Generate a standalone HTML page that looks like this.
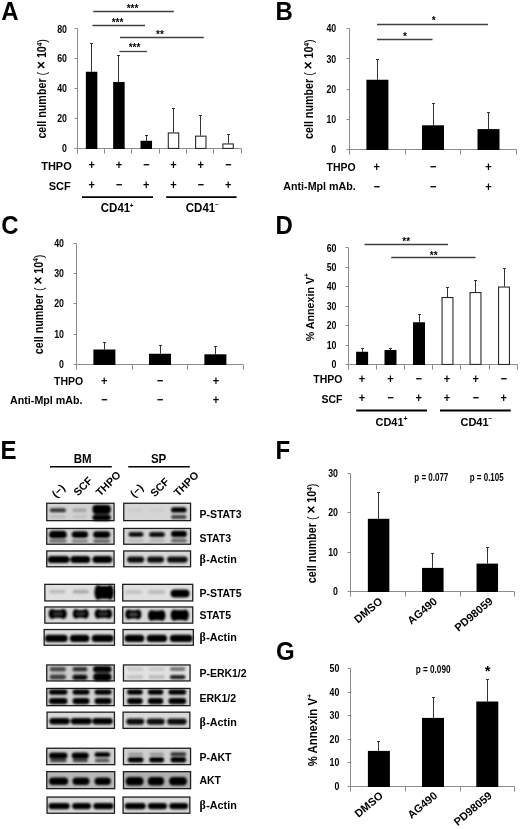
<!DOCTYPE html>
<html><head><meta charset="utf-8"><style>
html,body{margin:0;padding:0;background:#fff;}
body{width:520px;height:829px;overflow:hidden;}
svg{display:block;font-family:"Liberation Sans", sans-serif;filter:blur(0.35px);}
</style></head><body>
<svg width="520" height="829" viewBox="0 0 520 829">
<defs><filter id="bl" x="-20%" y="-100%" width="140%" height="300%"><feGaussianBlur stdDeviation="0.85"/></filter></defs>
<text x="0" y="0" font-size="24" text-anchor="start" font-weight="bold" fill="#000" transform="translate(1.2,20.3) scale(1,1.06)">A</text>
<text x="0" y="0" font-size="24" text-anchor="start" font-weight="bold" fill="#000" transform="translate(275.4,19.8) scale(1,1.06)">B</text>
<text x="0" y="0" font-size="24" text-anchor="start" font-weight="bold" fill="#000" transform="translate(1.2,234.1) scale(1,1.06)">C</text>
<text x="0" y="0" font-size="24" text-anchor="start" font-weight="bold" fill="#000" transform="translate(275.6,234.1) scale(1,1.06)">D</text>
<text x="0" y="0" font-size="24" text-anchor="start" font-weight="bold" fill="#000" transform="translate(0.4,459.1) scale(1,1.06)">E</text>
<text x="0" y="0" font-size="24" text-anchor="start" font-weight="bold" fill="#000" transform="translate(275.5,458.5) scale(1,1.06)">F</text>
<text x="0" y="0" font-size="24" text-anchor="start" font-weight="bold" fill="#000" transform="translate(276,659.8) scale(1,1.06)">G</text>
<line x1="77.5" y1="28.5" x2="77.5" y2="153.5" stroke="#8c8c8c" stroke-width="1"/>
<line x1="74.5" y1="148.5" x2="77.5" y2="148.5" stroke="#8c8c8c" stroke-width="1"/>
<text x="67" y="152.29999999999998" font-size="10" text-anchor="end" font-weight="bold" fill="#000" textLength="4.89" lengthAdjust="spacingAndGlyphs">0</text>
<line x1="74.5" y1="118.5" x2="77.5" y2="118.5" stroke="#8c8c8c" stroke-width="1"/>
<text x="67" y="122.34999999999998" font-size="10" text-anchor="end" font-weight="bold" fill="#000" textLength="9.79" lengthAdjust="spacingAndGlyphs">20</text>
<line x1="74.5" y1="88.5" x2="77.5" y2="88.5" stroke="#8c8c8c" stroke-width="1"/>
<text x="67" y="92.39999999999998" font-size="10" text-anchor="end" font-weight="bold" fill="#000" textLength="9.79" lengthAdjust="spacingAndGlyphs">40</text>
<line x1="74.5" y1="58.5" x2="77.5" y2="58.5" stroke="#8c8c8c" stroke-width="1"/>
<text x="67" y="62.44999999999998" font-size="10" text-anchor="end" font-weight="bold" fill="#000" textLength="9.79" lengthAdjust="spacingAndGlyphs">60</text>
<line x1="74.5" y1="28.5" x2="77.5" y2="28.5" stroke="#8c8c8c" stroke-width="1"/>
<text x="67" y="32.49999999999998" font-size="10" text-anchor="end" font-weight="bold" fill="#000" textLength="9.79" lengthAdjust="spacingAndGlyphs">80</text>
<line x1="77.5" y1="148.5" x2="241.3" y2="148.5" stroke="#8c8c8c" stroke-width="1"/>
<line x1="77.5" y1="148.5" x2="77.5" y2="153.5" stroke="#8c8c8c" stroke-width="1"/>
<line x1="104.5" y1="148.5" x2="104.5" y2="153.5" stroke="#8c8c8c" stroke-width="1"/>
<line x1="131.5" y1="148.5" x2="131.5" y2="153.5" stroke="#8c8c8c" stroke-width="1"/>
<line x1="159.5" y1="148.5" x2="159.5" y2="153.5" stroke="#8c8c8c" stroke-width="1"/>
<line x1="186.5" y1="148.5" x2="186.5" y2="153.5" stroke="#8c8c8c" stroke-width="1"/>
<line x1="213.5" y1="148.5" x2="213.5" y2="153.5" stroke="#8c8c8c" stroke-width="1"/>
<line x1="241.5" y1="148.5" x2="241.5" y2="153.5" stroke="#8c8c8c" stroke-width="1"/>
<line x1="91.5" y1="43" x2="91.5" y2="71.75" stroke="#333" stroke-width="1"/>
<line x1="90.0" y1="43.5" x2="93.0" y2="43.5" stroke="#333" stroke-width="1"/>
<rect x="85.85" y="71.75" width="11.5" height="77.25" fill="#000" stroke="none" stroke-width="0"/>
<line x1="118.5" y1="55.5" x2="118.5" y2="82" stroke="#333" stroke-width="1"/>
<line x1="117.0" y1="55.5" x2="120.0" y2="55.5" stroke="#333" stroke-width="1"/>
<rect x="113.15" y="82" width="11.5" height="67.0" fill="#000" stroke="none" stroke-width="0"/>
<line x1="146.5" y1="135" x2="146.5" y2="140.75" stroke="#333" stroke-width="1"/>
<line x1="145.0" y1="135.5" x2="148.0" y2="135.5" stroke="#333" stroke-width="1"/>
<rect x="140.55" y="140.75" width="11.5" height="8.25" fill="#000" stroke="none" stroke-width="0"/>
<line x1="173.5" y1="108.3" x2="173.5" y2="132.4" stroke="#333" stroke-width="1"/>
<line x1="172.0" y1="108.5" x2="175.0" y2="108.5" stroke="#333" stroke-width="1"/>
<rect x="168.3" y="132.95000000000002" width="10.4" height="15.499999999999995" fill="#fff" stroke="#2a2a2a" stroke-width="1.1"/>
<line x1="200.5" y1="115.7" x2="200.5" y2="135.6" stroke="#333" stroke-width="1"/>
<line x1="199.0" y1="115.5" x2="202.0" y2="115.5" stroke="#333" stroke-width="1"/>
<rect x="195.60000000000002" y="136.15" width="10.4" height="12.300000000000006" fill="#fff" stroke="#2a2a2a" stroke-width="1.1"/>
<line x1="228.5" y1="134.7" x2="228.5" y2="143.4" stroke="#333" stroke-width="1"/>
<line x1="227.0" y1="134.5" x2="230.0" y2="134.5" stroke="#333" stroke-width="1"/>
<rect x="222.9" y="143.95000000000002" width="10.4" height="4.499999999999995" fill="#fff" stroke="#2a2a2a" stroke-width="1.1"/>
<line x1="93.2" y1="11.5" x2="173.8" y2="11.5" stroke="#404040" stroke-width="1.3"/>
<text x="132.5" y="11.8" font-size="10" text-anchor="middle" font-weight="bold" fill="#000">***</text>
<line x1="92.5" y1="25.5" x2="145" y2="25.5" stroke="#404040" stroke-width="1.3"/>
<text x="117.5" y="25.8" font-size="10" text-anchor="middle" font-weight="bold" fill="#000">***</text>
<line x1="120" y1="37.5" x2="203.8" y2="37.5" stroke="#404040" stroke-width="1.3"/>
<text x="160" y="38.099999999999994" font-size="10" text-anchor="middle" font-weight="bold" fill="#000">**</text>
<line x1="119.5" y1="51.5" x2="147" y2="51.5" stroke="#404040" stroke-width="1.3"/>
<text x="134.5" y="51.3" font-size="10" text-anchor="middle" font-weight="bold" fill="#000">***</text>
<text x="0" y="0" font-size="12" text-anchor="middle" font-weight="bold" fill="#000" transform="translate(46.05,88.85) rotate(-90)" textLength="99.5" lengthAdjust="spacingAndGlyphs">cell number <tspan font-weight="normal">(</tspan> <tspan font-size="15" dy="0.3">×</tspan> <tspan dy="-0.3">10</tspan><tspan font-size="7" dy="-4.5">4</tspan><tspan dy="4.5" font-weight="normal">)</tspan></text>
<text x="0" y="0" font-size="11" text-anchor="end" font-weight="bold" fill="#000" transform="translate(71.75,170) scale(1,1.07)">THPO</text>
<text x="0" y="0" font-size="11" text-anchor="end" font-weight="bold" fill="#000" transform="translate(70.75,190) scale(1,1.07)">SCF</text>
<text x="0" y="0" font-size="11" text-anchor="middle" font-weight="bold" fill="#000" transform="translate(91.6,168.6) scale(1,1.12)">+</text>
<text x="0" y="0" font-size="11" text-anchor="middle" font-weight="bold" fill="#000" transform="translate(91.6,189.0) scale(1,1.12)">+</text>
<text x="0" y="0" font-size="11" text-anchor="middle" font-weight="bold" fill="#000" transform="translate(118.9,168.6) scale(1,1.12)">+</text>
<text x="0" y="0" font-size="11" text-anchor="middle" font-weight="bold" fill="#000" transform="translate(118.9,189.0) scale(1,1.12)">−</text>
<text x="0" y="0" font-size="11" text-anchor="middle" font-weight="bold" fill="#000" transform="translate(146.3,168.6) scale(1,1.12)">−</text>
<text x="0" y="0" font-size="11" text-anchor="middle" font-weight="bold" fill="#000" transform="translate(146.3,189.0) scale(1,1.12)">+</text>
<text x="0" y="0" font-size="11" text-anchor="middle" font-weight="bold" fill="#000" transform="translate(173.5,168.6) scale(1,1.12)">+</text>
<text x="0" y="0" font-size="11" text-anchor="middle" font-weight="bold" fill="#000" transform="translate(173.5,189.0) scale(1,1.12)">+</text>
<text x="0" y="0" font-size="11" text-anchor="middle" font-weight="bold" fill="#000" transform="translate(200.8,168.6) scale(1,1.12)">+</text>
<text x="0" y="0" font-size="11" text-anchor="middle" font-weight="bold" fill="#000" transform="translate(200.8,189.0) scale(1,1.12)">−</text>
<text x="0" y="0" font-size="11" text-anchor="middle" font-weight="bold" fill="#000" transform="translate(228.1,168.6) scale(1,1.12)">−</text>
<text x="0" y="0" font-size="11" text-anchor="middle" font-weight="bold" fill="#000" transform="translate(228.1,189.0) scale(1,1.12)">+</text>
<line x1="82" y1="197.2" x2="153" y2="197.2" stroke="#000" stroke-width="1.8"/>
<line x1="166.2" y1="197.2" x2="236.6" y2="197.2" stroke="#000" stroke-width="1.8"/>
<text x="0" y="0" font-size="11.5" text-anchor="start" font-weight="bold" fill="#000" transform="translate(100.8,212) scale(1,1.07)">CD41<tspan font-size="6.5" dy="-4.2" dx="-0.3">+</tspan></text>
<text x="0" y="0" font-size="11.5" text-anchor="start" font-weight="bold" fill="#000" transform="translate(185.8,212) scale(1,1.07)">CD41<tspan font-size="6" dy="-4.5">−</tspan></text>
<line x1="349.5" y1="28.5" x2="349.5" y2="154.5" stroke="#8c8c8c" stroke-width="1"/>
<line x1="346.5" y1="149.5" x2="349.5" y2="149.5" stroke="#8c8c8c" stroke-width="1"/>
<text x="336.2" y="152.9" font-size="10" text-anchor="end" font-weight="bold" fill="#000" textLength="4.89" lengthAdjust="spacingAndGlyphs">0</text>
<line x1="346.5" y1="119.5" x2="349.5" y2="119.5" stroke="#8c8c8c" stroke-width="1"/>
<text x="336.2" y="122.775" font-size="10" text-anchor="end" font-weight="bold" fill="#000" textLength="9.79" lengthAdjust="spacingAndGlyphs">10</text>
<line x1="346.5" y1="89.5" x2="349.5" y2="89.5" stroke="#8c8c8c" stroke-width="1"/>
<text x="336.2" y="92.65" font-size="10" text-anchor="end" font-weight="bold" fill="#000" textLength="9.79" lengthAdjust="spacingAndGlyphs">20</text>
<line x1="346.5" y1="58.5" x2="349.5" y2="58.5" stroke="#8c8c8c" stroke-width="1"/>
<text x="336.2" y="62.52500000000001" font-size="10" text-anchor="end" font-weight="bold" fill="#000" textLength="9.79" lengthAdjust="spacingAndGlyphs">30</text>
<line x1="346.5" y1="28.5" x2="349.5" y2="28.5" stroke="#8c8c8c" stroke-width="1"/>
<text x="336.2" y="32.40000000000001" font-size="10" text-anchor="end" font-weight="bold" fill="#000" textLength="9.79" lengthAdjust="spacingAndGlyphs">40</text>
<line x1="349.5" y1="149.5" x2="516.5" y2="149.5" stroke="#8c8c8c" stroke-width="1"/>
<line x1="349.5" y1="149.5" x2="349.5" y2="154.5" stroke="#8c8c8c" stroke-width="1"/>
<line x1="405.5" y1="149.5" x2="405.5" y2="154.5" stroke="#8c8c8c" stroke-width="1"/>
<line x1="460.5" y1="149.5" x2="460.5" y2="154.5" stroke="#8c8c8c" stroke-width="1"/>
<line x1="516.5" y1="149.5" x2="516.5" y2="154.5" stroke="#8c8c8c" stroke-width="1"/>
<line x1="377.5" y1="59.25" x2="377.5" y2="79.75" stroke="#333" stroke-width="1"/>
<line x1="376.0" y1="59.5" x2="379.0" y2="59.5" stroke="#333" stroke-width="1"/>
<rect x="366.4" y="79.75" width="22" height="70.25" fill="#000" stroke="none" stroke-width="0"/>
<line x1="433.5" y1="103.2" x2="433.5" y2="125.3" stroke="#333" stroke-width="1"/>
<line x1="432.0" y1="103.5" x2="435.0" y2="103.5" stroke="#333" stroke-width="1"/>
<rect x="422.0" y="125.3" width="22" height="24.700000000000003" fill="#000" stroke="none" stroke-width="0"/>
<line x1="488.5" y1="112.5" x2="488.5" y2="129.1" stroke="#333" stroke-width="1"/>
<line x1="487.0" y1="112.5" x2="490.0" y2="112.5" stroke="#333" stroke-width="1"/>
<rect x="477.5" y="129.1" width="22" height="20.900000000000006" fill="#000" stroke="none" stroke-width="0"/>
<line x1="377" y1="24.5" x2="488" y2="24.5" stroke="#404040" stroke-width="1.3"/>
<text x="433.75" y="24.3" font-size="10" text-anchor="middle" font-weight="bold" fill="#000">*</text>
<line x1="377" y1="39.5" x2="432.5" y2="39.5" stroke="#404040" stroke-width="1.3"/>
<text x="405" y="39.55" font-size="10" text-anchor="middle" font-weight="bold" fill="#000">*</text>
<text x="0" y="0" font-size="12" text-anchor="middle" font-weight="bold" fill="#000" transform="translate(313.15000000000003,89.25) rotate(-90)" textLength="99.5" lengthAdjust="spacingAndGlyphs">cell number <tspan font-weight="normal">(</tspan> <tspan font-size="15" dy="0.3">×</tspan> <tspan dy="-0.3">10</tspan><tspan font-size="7" dy="-4.5">4</tspan><tspan dy="4.5" font-weight="normal">)</tspan></text>
<text x="0" y="0" font-size="10.5" text-anchor="end" font-weight="bold" fill="#000" transform="translate(355.75,170.5) scale(1,1.07)">THPO</text>
<text x="0" y="0" font-size="10.7" text-anchor="end" font-weight="bold" fill="#000" transform="translate(355.75,189.5) scale(1,1.06)">Anti-Mpl mAb.</text>
<text x="0" y="0" font-size="11" text-anchor="middle" font-weight="bold" fill="#000" transform="translate(376.8,171.0) scale(1,1.12)">+</text>
<text x="0" y="0" font-size="11" text-anchor="middle" font-weight="bold" fill="#000" transform="translate(376.8,191.0) scale(1,1.12)">−</text>
<text x="0" y="0" font-size="11" text-anchor="middle" font-weight="bold" fill="#000" transform="translate(433,171.0) scale(1,1.12)">−</text>
<text x="0" y="0" font-size="11" text-anchor="middle" font-weight="bold" fill="#000" transform="translate(433,191.0) scale(1,1.12)">−</text>
<text x="0" y="0" font-size="11" text-anchor="middle" font-weight="bold" fill="#000" transform="translate(488.5,171.0) scale(1,1.12)">+</text>
<text x="0" y="0" font-size="11" text-anchor="middle" font-weight="bold" fill="#000" transform="translate(488.5,191.0) scale(1,1.12)">+</text>
<line x1="76.5" y1="243.5" x2="76.5" y2="369.5" stroke="#8c8c8c" stroke-width="1"/>
<line x1="73.5" y1="364.5" x2="76.5" y2="364.5" stroke="#8c8c8c" stroke-width="1"/>
<text x="64" y="367.8" font-size="10" text-anchor="end" font-weight="bold" fill="#000" textLength="4.89" lengthAdjust="spacingAndGlyphs">0</text>
<line x1="73.5" y1="334.5" x2="76.5" y2="334.5" stroke="#8c8c8c" stroke-width="1"/>
<text x="64" y="337.625" font-size="10" text-anchor="end" font-weight="bold" fill="#000" textLength="9.79" lengthAdjust="spacingAndGlyphs">10</text>
<line x1="73.5" y1="303.5" x2="76.5" y2="303.5" stroke="#8c8c8c" stroke-width="1"/>
<text x="64" y="307.45" font-size="10" text-anchor="end" font-weight="bold" fill="#000" textLength="9.79" lengthAdjust="spacingAndGlyphs">20</text>
<line x1="73.5" y1="273.5" x2="76.5" y2="273.5" stroke="#8c8c8c" stroke-width="1"/>
<text x="64" y="277.275" font-size="10" text-anchor="end" font-weight="bold" fill="#000" textLength="9.79" lengthAdjust="spacingAndGlyphs">30</text>
<line x1="73.5" y1="243.5" x2="76.5" y2="243.5" stroke="#8c8c8c" stroke-width="1"/>
<text x="64" y="247.1" font-size="10" text-anchor="end" font-weight="bold" fill="#000" textLength="9.79" lengthAdjust="spacingAndGlyphs">40</text>
<line x1="76.5" y1="364.5" x2="243.1" y2="364.5" stroke="#8c8c8c" stroke-width="1"/>
<line x1="76.5" y1="364.5" x2="76.5" y2="369.5" stroke="#8c8c8c" stroke-width="1"/>
<line x1="132.5" y1="364.5" x2="132.5" y2="369.5" stroke="#8c8c8c" stroke-width="1"/>
<line x1="187.5" y1="364.5" x2="187.5" y2="369.5" stroke="#8c8c8c" stroke-width="1"/>
<line x1="243.5" y1="364.5" x2="243.5" y2="369.5" stroke="#8c8c8c" stroke-width="1"/>
<line x1="104.5" y1="342" x2="104.5" y2="349.5" stroke="#333" stroke-width="1"/>
<line x1="103.0" y1="342.5" x2="106.0" y2="342.5" stroke="#333" stroke-width="1"/>
<rect x="93.4" y="349.5" width="22" height="15.5" fill="#000" stroke="none" stroke-width="0"/>
<line x1="160.5" y1="345" x2="160.5" y2="353.75" stroke="#333" stroke-width="1"/>
<line x1="159.0" y1="345.5" x2="162.0" y2="345.5" stroke="#333" stroke-width="1"/>
<rect x="149.0" y="353.75" width="22" height="11.25" fill="#000" stroke="none" stroke-width="0"/>
<line x1="215.5" y1="346.4" x2="215.5" y2="354.3" stroke="#333" stroke-width="1"/>
<line x1="214.0" y1="346.5" x2="217.0" y2="346.5" stroke="#333" stroke-width="1"/>
<rect x="204.4" y="354.3" width="22" height="10.699999999999989" fill="#000" stroke="none" stroke-width="0"/>
<text x="0" y="0" font-size="12" text-anchor="middle" font-weight="bold" fill="#000" transform="translate(42.6,304.4) rotate(-90)" textLength="99.5" lengthAdjust="spacingAndGlyphs">cell number <tspan font-weight="normal">(</tspan> <tspan font-size="15" dy="0.3">×</tspan> <tspan dy="-0.3">10</tspan><tspan font-size="7" dy="-4.5">4</tspan><tspan dy="4.5" font-weight="normal">)</tspan></text>
<text x="0" y="0" font-size="10.5" text-anchor="end" font-weight="bold" fill="#000" transform="translate(83.25,385) scale(1,1.07)">THPO</text>
<text x="0" y="0" font-size="10.7" text-anchor="end" font-weight="bold" fill="#000" transform="translate(82.5,404) scale(1,1.06)">Anti-Mpl mAb.</text>
<text x="0" y="0" font-size="11" text-anchor="middle" font-weight="bold" fill="#000" transform="translate(104.3,384.6) scale(1,1.12)">+</text>
<text x="0" y="0" font-size="11" text-anchor="middle" font-weight="bold" fill="#000" transform="translate(104.3,404.20000000000005) scale(1,1.12)">−</text>
<text x="0" y="0" font-size="11" text-anchor="middle" font-weight="bold" fill="#000" transform="translate(160,384.6) scale(1,1.12)">−</text>
<text x="0" y="0" font-size="11" text-anchor="middle" font-weight="bold" fill="#000" transform="translate(160,404.20000000000005) scale(1,1.12)">−</text>
<text x="0" y="0" font-size="11" text-anchor="middle" font-weight="bold" fill="#000" transform="translate(216,384.6) scale(1,1.12)">+</text>
<text x="0" y="0" font-size="11" text-anchor="middle" font-weight="bold" fill="#000" transform="translate(216,404.20000000000005) scale(1,1.12)">+</text>
<line x1="348.5" y1="247.5" x2="348.5" y2="369.5" stroke="#8c8c8c" stroke-width="1"/>
<line x1="345.5" y1="364.5" x2="348.5" y2="364.5" stroke="#8c8c8c" stroke-width="1"/>
<text x="336.5" y="368.40000000000003" font-size="10" text-anchor="end" font-weight="bold" fill="#000" textLength="4.89" lengthAdjust="spacingAndGlyphs">0</text>
<line x1="345.5" y1="345.5" x2="348.5" y2="345.5" stroke="#8c8c8c" stroke-width="1"/>
<text x="336.5" y="348.92" font-size="10" text-anchor="end" font-weight="bold" fill="#000" textLength="9.79" lengthAdjust="spacingAndGlyphs">10</text>
<line x1="345.5" y1="325.5" x2="348.5" y2="325.5" stroke="#8c8c8c" stroke-width="1"/>
<text x="336.5" y="329.44000000000005" font-size="10" text-anchor="end" font-weight="bold" fill="#000" textLength="9.79" lengthAdjust="spacingAndGlyphs">20</text>
<line x1="345.5" y1="306.5" x2="348.5" y2="306.5" stroke="#8c8c8c" stroke-width="1"/>
<text x="336.5" y="309.96000000000004" font-size="10" text-anchor="end" font-weight="bold" fill="#000" textLength="9.79" lengthAdjust="spacingAndGlyphs">30</text>
<line x1="345.5" y1="286.5" x2="348.5" y2="286.5" stroke="#8c8c8c" stroke-width="1"/>
<text x="336.5" y="290.48" font-size="10" text-anchor="end" font-weight="bold" fill="#000" textLength="9.79" lengthAdjust="spacingAndGlyphs">40</text>
<line x1="345.5" y1="267.5" x2="348.5" y2="267.5" stroke="#8c8c8c" stroke-width="1"/>
<text x="336.5" y="271.00000000000006" font-size="10" text-anchor="end" font-weight="bold" fill="#000" textLength="9.79" lengthAdjust="spacingAndGlyphs">50</text>
<line x1="345.5" y1="247.5" x2="348.5" y2="247.5" stroke="#8c8c8c" stroke-width="1"/>
<text x="336.5" y="251.52" font-size="10" text-anchor="end" font-weight="bold" fill="#000" textLength="9.79" lengthAdjust="spacingAndGlyphs">60</text>
<line x1="348.5" y1="364.5" x2="517.8" y2="364.5" stroke="#8c8c8c" stroke-width="1"/>
<line x1="348.5" y1="364.5" x2="348.5" y2="369.5" stroke="#8c8c8c" stroke-width="1"/>
<line x1="376.5" y1="364.5" x2="376.5" y2="369.5" stroke="#8c8c8c" stroke-width="1"/>
<line x1="404.5" y1="364.5" x2="404.5" y2="369.5" stroke="#8c8c8c" stroke-width="1"/>
<line x1="432.5" y1="364.5" x2="432.5" y2="369.5" stroke="#8c8c8c" stroke-width="1"/>
<line x1="460.5" y1="364.5" x2="460.5" y2="369.5" stroke="#8c8c8c" stroke-width="1"/>
<line x1="489.5" y1="364.5" x2="489.5" y2="369.5" stroke="#8c8c8c" stroke-width="1"/>
<line x1="517.5" y1="364.5" x2="517.5" y2="369.5" stroke="#8c8c8c" stroke-width="1"/>
<line x1="362.5" y1="348.75" x2="362.5" y2="351.75" stroke="#333" stroke-width="1"/>
<line x1="361.0" y1="348.5" x2="364.0" y2="348.5" stroke="#333" stroke-width="1"/>
<rect x="356.1" y="351.75" width="12" height="13.25" fill="#000" stroke="none" stroke-width="0"/>
<line x1="390.5" y1="348" x2="390.5" y2="350" stroke="#333" stroke-width="1"/>
<line x1="389.0" y1="348.5" x2="392.0" y2="348.5" stroke="#333" stroke-width="1"/>
<rect x="384.5" y="350" width="12" height="15.0" fill="#000" stroke="none" stroke-width="0"/>
<line x1="419.5" y1="314.75" x2="419.5" y2="322.25" stroke="#333" stroke-width="1"/>
<line x1="418.0" y1="314.5" x2="421.0" y2="314.5" stroke="#333" stroke-width="1"/>
<rect x="413.0" y="322.25" width="12" height="42.75" fill="#000" stroke="none" stroke-width="0"/>
<line x1="447.5" y1="287" x2="447.5" y2="297" stroke="#333" stroke-width="1"/>
<line x1="446.0" y1="287.5" x2="449.0" y2="287.5" stroke="#333" stroke-width="1"/>
<rect x="442.05" y="297.55" width="10.9" height="66.9" fill="#fff" stroke="#2a2a2a" stroke-width="1.1"/>
<line x1="475.5" y1="280.5" x2="475.5" y2="292" stroke="#333" stroke-width="1"/>
<line x1="474.0" y1="280.5" x2="477.0" y2="280.5" stroke="#333" stroke-width="1"/>
<rect x="470.05" y="292.55" width="10.9" height="71.9" fill="#fff" stroke="#2a2a2a" stroke-width="1.1"/>
<line x1="504.5" y1="268.75" x2="504.5" y2="286.5" stroke="#333" stroke-width="1"/>
<line x1="503.0" y1="268.5" x2="506.0" y2="268.5" stroke="#333" stroke-width="1"/>
<rect x="498.55" y="287.05" width="10.9" height="77.4" fill="#fff" stroke="#2a2a2a" stroke-width="1.1"/>
<line x1="364.5" y1="244.5" x2="448" y2="244.5" stroke="#404040" stroke-width="1.3"/>
<text x="406.25" y="244.55" font-size="10" text-anchor="middle" font-weight="bold" fill="#000">**</text>
<line x1="391.25" y1="257.5" x2="475.5" y2="257.5" stroke="#404040" stroke-width="1.3"/>
<text x="433.75" y="258.5" font-size="10" text-anchor="middle" font-weight="bold" fill="#000">**</text>
<text x="0" y="0" font-size="11.5" text-anchor="middle" font-weight="bold" fill="#000" transform="translate(313.5,307.2) rotate(-90)" textLength="68" lengthAdjust="spacingAndGlyphs">% Annexin V<tspan font-size="7" dy="-4.5">+</tspan></text>
<text x="0" y="0" font-size="10.5" text-anchor="end" font-weight="bold" fill="#000" transform="translate(342.5,383.3) scale(1,1.07)">THPO</text>
<text x="0" y="0" font-size="10.5" text-anchor="end" font-weight="bold" fill="#000" transform="translate(342.5,403) scale(1,1.07)">SCF</text>
<text x="0" y="0" font-size="11" text-anchor="middle" font-weight="bold" fill="#000" transform="translate(362,383.0) scale(1,1.12)">+</text>
<text x="0" y="0" font-size="11" text-anchor="middle" font-weight="bold" fill="#000" transform="translate(362,402.40000000000003) scale(1,1.12)">+</text>
<text x="0" y="0" font-size="11" text-anchor="middle" font-weight="bold" fill="#000" transform="translate(390.5,383.0) scale(1,1.12)">+</text>
<text x="0" y="0" font-size="11" text-anchor="middle" font-weight="bold" fill="#000" transform="translate(390.5,402.40000000000003) scale(1,1.12)">−</text>
<text x="0" y="0" font-size="11" text-anchor="middle" font-weight="bold" fill="#000" transform="translate(418.75,383.0) scale(1,1.12)">−</text>
<text x="0" y="0" font-size="11" text-anchor="middle" font-weight="bold" fill="#000" transform="translate(418.75,402.40000000000003) scale(1,1.12)">+</text>
<text x="0" y="0" font-size="11" text-anchor="middle" font-weight="bold" fill="#000" transform="translate(447,383.0) scale(1,1.12)">+</text>
<text x="0" y="0" font-size="11" text-anchor="middle" font-weight="bold" fill="#000" transform="translate(447,402.40000000000003) scale(1,1.12)">+</text>
<text x="0" y="0" font-size="11" text-anchor="middle" font-weight="bold" fill="#000" transform="translate(475.75,383.0) scale(1,1.12)">+</text>
<text x="0" y="0" font-size="11" text-anchor="middle" font-weight="bold" fill="#000" transform="translate(475.75,402.40000000000003) scale(1,1.12)">−</text>
<text x="0" y="0" font-size="11" text-anchor="middle" font-weight="bold" fill="#000" transform="translate(503.75,383.0) scale(1,1.12)">−</text>
<text x="0" y="0" font-size="11" text-anchor="middle" font-weight="bold" fill="#000" transform="translate(503.75,402.40000000000003) scale(1,1.12)">+</text>
<line x1="356.25" y1="410.5" x2="427" y2="410.5" stroke="#000" stroke-width="1.8"/>
<line x1="440" y1="410.5" x2="510.75" y2="410.5" stroke="#000" stroke-width="1.8"/>
<text x="0" y="0" font-size="11" text-anchor="start" font-weight="bold" fill="#000" transform="translate(375.5,425.5) scale(1,1.07)">CD41<tspan font-size="7" dy="-4">+</tspan></text>
<text x="0" y="0" font-size="11" text-anchor="start" font-weight="bold" fill="#000" transform="translate(460.5,425.5) scale(1,1.07)">CD41<tspan font-size="6" dy="-4.5">−</tspan></text>
<line x1="350.5" y1="473.5" x2="350.5" y2="596.5" stroke="#8c8c8c" stroke-width="1"/>
<line x1="347.5" y1="591.5" x2="350.5" y2="591.5" stroke="#8c8c8c" stroke-width="1"/>
<text x="338" y="595.0" font-size="10" text-anchor="end" font-weight="bold" fill="#000" textLength="4.89" lengthAdjust="spacingAndGlyphs">0</text>
<line x1="347.5" y1="552.5" x2="350.5" y2="552.5" stroke="#8c8c8c" stroke-width="1"/>
<text x="338" y="555.67" font-size="10" text-anchor="end" font-weight="bold" fill="#000" textLength="9.79" lengthAdjust="spacingAndGlyphs">10</text>
<line x1="347.5" y1="512.5" x2="350.5" y2="512.5" stroke="#8c8c8c" stroke-width="1"/>
<text x="338" y="516.34" font-size="10" text-anchor="end" font-weight="bold" fill="#000" textLength="9.79" lengthAdjust="spacingAndGlyphs">20</text>
<line x1="347.5" y1="473.5" x2="350.5" y2="473.5" stroke="#8c8c8c" stroke-width="1"/>
<text x="338" y="477.01" font-size="10" text-anchor="end" font-weight="bold" fill="#000" textLength="9.79" lengthAdjust="spacingAndGlyphs">30</text>
<line x1="350.5" y1="591.5" x2="514" y2="591.5" stroke="#8c8c8c" stroke-width="1"/>
<line x1="350.5" y1="591.5" x2="350.5" y2="596.5" stroke="#8c8c8c" stroke-width="1"/>
<line x1="405.5" y1="591.5" x2="405.5" y2="596.5" stroke="#8c8c8c" stroke-width="1"/>
<line x1="460.5" y1="591.5" x2="460.5" y2="596.5" stroke="#8c8c8c" stroke-width="1"/>
<line x1="514.5" y1="591.5" x2="514.5" y2="596.5" stroke="#8c8c8c" stroke-width="1"/>
<line x1="378.5" y1="492.6" x2="378.5" y2="518.8" stroke="#333" stroke-width="1"/>
<line x1="377.0" y1="492.5" x2="380.0" y2="492.5" stroke="#333" stroke-width="1"/>
<rect x="367.85" y="518.8" width="21.5" height="73.20000000000005" fill="#000" stroke="none" stroke-width="0"/>
<line x1="432.5" y1="553.2" x2="432.5" y2="567.9" stroke="#333" stroke-width="1"/>
<line x1="431.0" y1="553.5" x2="434.0" y2="553.5" stroke="#333" stroke-width="1"/>
<rect x="422.05" y="567.9" width="21.5" height="24.100000000000023" fill="#000" stroke="none" stroke-width="0"/>
<line x1="487.5" y1="547.6" x2="487.5" y2="563.6" stroke="#333" stroke-width="1"/>
<line x1="486.0" y1="547.5" x2="489.0" y2="547.5" stroke="#333" stroke-width="1"/>
<rect x="476.55" y="563.6" width="21.5" height="28.399999999999977" fill="#000" stroke="none" stroke-width="0"/>
<text x="414.3" y="481.2" font-size="10" text-anchor="start" font-weight="bold" fill="#000" textLength="34" lengthAdjust="spacingAndGlyphs">p = 0.077</text>
<text x="469.7" y="481.2" font-size="10" text-anchor="start" font-weight="bold" fill="#000" textLength="34" lengthAdjust="spacingAndGlyphs">p = 0.105</text>
<text x="0" y="0" font-size="12" text-anchor="middle" font-weight="bold" fill="#000" transform="translate(316.15,533.45) rotate(-90)" textLength="99.5" lengthAdjust="spacingAndGlyphs">cell number <tspan font-weight="normal">(</tspan> <tspan font-size="15" dy="0.3">×</tspan> <tspan dy="-0.3">10</tspan><tspan font-size="7" dy="-4.5">4</tspan><tspan dy="4.5" font-weight="normal">)</tspan></text>
<text x="0" y="0" font-size="11" text-anchor="end" font-weight="bold" fill="#000" transform="translate(383.2,602.5) rotate(-40)">DMSO</text>
<text x="0" y="0" font-size="11" text-anchor="end" font-weight="bold" fill="#000" transform="translate(438.0,602.5) rotate(-40)">AG490</text>
<text x="0" y="0" font-size="11" text-anchor="end" font-weight="bold" fill="#000" transform="translate(493.6,602.5) rotate(-40)">PD98059</text>
<line x1="350.5" y1="668.5" x2="350.5" y2="791.5" stroke="#8c8c8c" stroke-width="1"/>
<line x1="347.5" y1="786.5" x2="350.5" y2="786.5" stroke="#8c8c8c" stroke-width="1"/>
<text x="339.3" y="789.9" font-size="10" text-anchor="end" font-weight="bold" fill="#000" textLength="4.89" lengthAdjust="spacingAndGlyphs">0</text>
<line x1="347.5" y1="762.5" x2="350.5" y2="762.5" stroke="#8c8c8c" stroke-width="1"/>
<text x="339.3" y="766.34" font-size="10" text-anchor="end" font-weight="bold" fill="#000" textLength="9.79" lengthAdjust="spacingAndGlyphs">10</text>
<line x1="347.5" y1="739.5" x2="350.5" y2="739.5" stroke="#8c8c8c" stroke-width="1"/>
<text x="339.3" y="742.78" font-size="10" text-anchor="end" font-weight="bold" fill="#000" textLength="9.79" lengthAdjust="spacingAndGlyphs">20</text>
<line x1="347.5" y1="715.5" x2="350.5" y2="715.5" stroke="#8c8c8c" stroke-width="1"/>
<text x="339.3" y="719.22" font-size="10" text-anchor="end" font-weight="bold" fill="#000" textLength="9.79" lengthAdjust="spacingAndGlyphs">30</text>
<line x1="347.5" y1="692.5" x2="350.5" y2="692.5" stroke="#8c8c8c" stroke-width="1"/>
<text x="339.3" y="695.66" font-size="10" text-anchor="end" font-weight="bold" fill="#000" textLength="9.79" lengthAdjust="spacingAndGlyphs">40</text>
<line x1="347.5" y1="668.5" x2="350.5" y2="668.5" stroke="#8c8c8c" stroke-width="1"/>
<text x="339.3" y="672.1" font-size="10" text-anchor="end" font-weight="bold" fill="#000" textLength="9.79" lengthAdjust="spacingAndGlyphs">50</text>
<line x1="350.5" y1="786.5" x2="514.8" y2="786.5" stroke="#8c8c8c" stroke-width="1"/>
<line x1="350.5" y1="786.5" x2="350.5" y2="791.5" stroke="#8c8c8c" stroke-width="1"/>
<line x1="405.5" y1="786.5" x2="405.5" y2="791.5" stroke="#8c8c8c" stroke-width="1"/>
<line x1="460.5" y1="786.5" x2="460.5" y2="791.5" stroke="#8c8c8c" stroke-width="1"/>
<line x1="514.5" y1="786.5" x2="514.5" y2="791.5" stroke="#8c8c8c" stroke-width="1"/>
<line x1="378.5" y1="741.1" x2="378.5" y2="750.9" stroke="#333" stroke-width="1"/>
<line x1="377.0" y1="741.5" x2="380.0" y2="741.5" stroke="#333" stroke-width="1"/>
<rect x="367.9" y="750.9" width="22" height="36.10000000000002" fill="#000" stroke="none" stroke-width="0"/>
<line x1="433.5" y1="697.6" x2="433.5" y2="717.9" stroke="#333" stroke-width="1"/>
<line x1="432.0" y1="697.5" x2="435.0" y2="697.5" stroke="#333" stroke-width="1"/>
<rect x="422.0" y="717.9" width="22" height="69.10000000000002" fill="#000" stroke="none" stroke-width="0"/>
<line x1="487.5" y1="679" x2="487.5" y2="701.5" stroke="#333" stroke-width="1"/>
<line x1="486.0" y1="679.5" x2="489.0" y2="679.5" stroke="#333" stroke-width="1"/>
<rect x="476.3" y="701.5" width="22" height="85.5" fill="#000" stroke="none" stroke-width="0"/>
<text x="415.7" y="673" font-size="10" text-anchor="start" font-weight="bold" fill="#000" textLength="34.8" lengthAdjust="spacingAndGlyphs">p = 0.090</text>
<text x="487.7" y="676" font-size="15" text-anchor="middle" font-weight="bold" fill="#000">*</text>
<text x="0" y="0" font-size="12.2" text-anchor="middle" font-weight="bold" fill="#000" transform="translate(316.6,730.1) rotate(-90)" textLength="72.4" lengthAdjust="spacingAndGlyphs">% Annexin V<tspan font-size="7.5" dy="-4.8">+</tspan></text>
<text x="0" y="0" font-size="11" text-anchor="end" font-weight="bold" fill="#000" transform="translate(383.8,796.8) rotate(-40)">DMSO</text>
<text x="0" y="0" font-size="11" text-anchor="end" font-weight="bold" fill="#000" transform="translate(438.1,796.8) rotate(-40)">AG490</text>
<text x="0" y="0" font-size="11" text-anchor="end" font-weight="bold" fill="#000" transform="translate(492.8,796.8) rotate(-40)">PD98059</text>
<text x="0" y="0" font-size="11.5" text-anchor="start" font-weight="bold" fill="#000" transform="translate(73.75,463) scale(1,1.05)">BM</text>
<text x="0" y="0" font-size="11.5" text-anchor="start" font-weight="bold" fill="#000" transform="translate(150.9,462.7) scale(1,1.05)">SP</text>
<line x1="50" y1="466.8" x2="111.75" y2="466.8" stroke="#000" stroke-width="1.6"/>
<line x1="128.3" y1="466.8" x2="189.8" y2="466.8" stroke="#000" stroke-width="1.6"/>
<text x="0" y="0" font-size="10.8" text-anchor="middle" font-weight="bold" fill="#000" transform="translate(58.2,490.65) rotate(-45)" dy="3.9">(−)</text>
<text x="0" y="0" font-size="10.8" text-anchor="middle" font-weight="bold" fill="#000" transform="translate(82.85,486.15) rotate(-45)" dy="3.9">SCF</text>
<text x="0" y="0" font-size="10.8" text-anchor="middle" font-weight="bold" fill="#000" transform="translate(108.05,483.45) rotate(-45)" dy="3.9">THPO</text>
<text x="0" y="0" font-size="10.8" text-anchor="middle" font-weight="bold" fill="#000" transform="translate(136.45,490.5) rotate(-45)" dy="3.9">(−)</text>
<text x="0" y="0" font-size="10.8" text-anchor="middle" font-weight="bold" fill="#000" transform="translate(159.55,487.1) rotate(-45)" dy="3.9">SCF</text>
<text x="0" y="0" font-size="10.8" text-anchor="middle" font-weight="bold" fill="#000" transform="translate(186,483.75) rotate(-45)" dy="3.9">THPO</text>
<rect x="46.75" y="503.25" width="67.30" height="17.40" fill="#d2d2d2" stroke="#1e1e1e" stroke-width="1.3"/>
<rect x="123.75" y="503.25" width="66.80" height="17.40" fill="#d6d6d6" stroke="#1e1e1e" stroke-width="1.3"/>
<g filter="url(#bl)">
<rect x="49.7" y="508.2" width="16.3" height="4.0" rx="2.0" ry="2.0" fill="#333"/>
<rect x="49.7" y="515.1" width="16.3" height="3.3" rx="1.6" ry="1.6" fill="#bcbcbc"/>
<rect x="72.5" y="508.4" width="14.2" height="3.6" rx="1.8" ry="1.8" fill="#a2a2a2"/>
<rect x="72.5" y="515.1" width="14.2" height="3.3" rx="1.6" ry="1.6" fill="#c2c2c2"/>
<rect x="92.4" y="504.7" width="18.5" height="9.3" rx="4.0" ry="4.0" fill="#000"/>
<rect x="92.4" y="514.4" width="18.5" height="6.3" rx="3.1" ry="3.1" fill="#000"/>
<rect x="127.0" y="508.1" width="16.5" height="3.8" rx="1.9" ry="1.9" fill="#cdcdcd"/>
<rect x="148.5" y="508.1" width="16.5" height="3.8" rx="1.9" ry="1.9" fill="#cdcdcd"/>
<rect x="171.0" y="507.2" width="15.6" height="5.3" rx="2.6" ry="2.6" fill="#000"/>
<rect x="171.0" y="515.0" width="15.6" height="4.0" rx="2.0" ry="2.0" fill="#444"/>
</g>
<text x="0" y="0" font-size="10.5" text-anchor="start" font-weight="bold" fill="#000" transform="translate(199.4,518) scale(1,1.07)">P-STAT3</text>
<rect x="46.75" y="528.45" width="67.30" height="15.80" fill="#d0d0d0" stroke="#1e1e1e" stroke-width="1.3"/>
<rect x="123.75" y="528.45" width="66.80" height="15.80" fill="#d4d4d4" stroke="#1e1e1e" stroke-width="1.3"/>
<g filter="url(#bl)">
<rect x="49.0" y="530.8" width="17.8" height="7.7" rx="3.9" ry="3.9" fill="#000"/>
<rect x="49.0" y="539.2" width="17.8" height="3.8" rx="1.9" ry="1.9" fill="#777"/>
<rect x="71.7" y="531.2" width="16.4" height="6.8" rx="3.4" ry="3.4" fill="#000"/>
<rect x="71.7" y="539.2" width="16.4" height="3.8" rx="1.9" ry="1.9" fill="#888"/>
<rect x="93.1" y="531.2" width="17.1" height="6.8" rx="3.4" ry="3.4" fill="#000"/>
<rect x="93.1" y="539.2" width="17.1" height="3.8" rx="1.9" ry="1.9" fill="#666"/>
<rect x="128.5" y="532.1" width="15.0" height="4.8" rx="2.4" ry="2.4" fill="#111"/>
<rect x="128.5" y="538.8" width="15.0" height="3.8" rx="1.9" ry="1.9" fill="#bbb"/>
<rect x="149.2" y="531.9" width="15.6" height="5.3" rx="2.6" ry="2.6" fill="#080808"/>
<rect x="149.2" y="538.8" width="15.6" height="3.8" rx="1.9" ry="1.9" fill="#b5b5b5"/>
<rect x="171.0" y="530.7" width="15.9" height="6.6" rx="3.3" ry="3.3" fill="#000"/>
<rect x="171.0" y="538.8" width="15.9" height="3.8" rx="1.9" ry="1.9" fill="#666"/>
</g>
<text x="0" y="0" font-size="10.5" text-anchor="start" font-weight="bold" fill="#000" transform="translate(199.4,541.9) scale(1,1.07)">STAT3</text>
<rect x="46.75" y="550.95" width="67.30" height="15.80" fill="#d8d8d8" stroke="#1e1e1e" stroke-width="1.3"/>
<rect x="123.75" y="550.95" width="66.80" height="15.80" fill="#d8d8d8" stroke="#1e1e1e" stroke-width="1.3"/>
<g filter="url(#bl)">
<rect x="47.6" y="556.0" width="22.0" height="7.0" rx="3.5" ry="3.5" fill="#000"/>
<rect x="70.3" y="556.0" width="20.0" height="7.0" rx="3.5" ry="3.5" fill="#000"/>
<rect x="92.4" y="556.0" width="19.9" height="7.0" rx="3.5" ry="3.5" fill="#000"/>
<rect x="127.1" y="556.4" width="17.1" height="6.3" rx="3.1" ry="3.1" fill="#111"/>
<rect x="147.0" y="556.4" width="17.1" height="6.3" rx="3.1" ry="3.1" fill="#111"/>
<rect x="167.0" y="556.4" width="20.6" height="6.3" rx="3.1" ry="3.1" fill="#111"/>
</g>
<text x="0" y="0" font-size="10.5" text-anchor="start" font-weight="bold" fill="#000" transform="translate(199.4,563) scale(1,1.07)"><tspan font-family="Liberation Serif" font-weight="bold" font-size="12">β</tspan><tspan dx="0.5" font-size="10.8">-Actin</tspan></text>
<rect x="44.85" y="584.35" width="69.60" height="16.60" fill="#e0e0e0" stroke="#1e1e1e" stroke-width="1.3"/>
<rect x="122.75" y="584.35" width="70.00" height="16.60" fill="#e0e0e0" stroke="#1e1e1e" stroke-width="1.3"/>
<g filter="url(#bl)">
<rect x="49.3" y="589.8" width="16.1" height="3.8" rx="1.9" ry="1.9" fill="#bbb"/>
<rect x="72.7" y="589.8" width="16.1" height="3.8" rx="1.9" ry="1.9" fill="#aaa"/>
<ellipse cx="98.0" cy="592.4" rx="3.6" ry="7.7" fill="#000"/>
<ellipse cx="110.2" cy="592.4" rx="3.6" ry="7.7" fill="#000"/>
<rect x="98.0" y="585.9" width="12.2" height="13.0" fill="#000"/>
<rect x="125.0" y="590.1" width="17.0" height="3.8" rx="1.9" ry="1.9" fill="#c4c4c4"/>
<rect x="148.0" y="590.1" width="17.0" height="3.8" rx="1.9" ry="1.9" fill="#bcbcbc"/>
<rect x="170.6" y="589.5" width="19.0" height="7.9" rx="3.9" ry="3.9" fill="#000"/>
</g>
<text x="0" y="0" font-size="10.5" text-anchor="start" font-weight="bold" fill="#000" transform="translate(199.4,596.9) scale(1,1.07)">P-STAT5</text>
<rect x="44.85" y="606.95" width="69.60" height="16.20" fill="#d8d8d8" stroke="#1e1e1e" stroke-width="1.3"/>
<rect x="122.75" y="606.95" width="70.00" height="16.20" fill="#d8d8d8" stroke="#1e1e1e" stroke-width="1.3"/>
<g filter="url(#bl)">
<ellipse cx="52.2" cy="613.9" rx="3.6" ry="5.0" fill="#000"/>
<ellipse cx="63.2" cy="613.9" rx="3.6" ry="5.0" fill="#000"/>
<rect x="52.2" y="609.9" width="11.0" height="8.0" fill="#000"/>
<rect x="53.2" y="613.3" width="9.0" height="1.2" fill="#5a5a5a"/>
<ellipse cx="75.9" cy="613.9" rx="3.2" ry="4.9" fill="#000"/>
<ellipse cx="85.6" cy="613.9" rx="3.2" ry="4.9" fill="#000"/>
<rect x="75.9" y="610.0" width="9.7" height="7.8" fill="#000"/>
<rect x="76.9" y="613.3" width="7.7" height="1.2" fill="#5a5a5a"/>
<ellipse cx="98.1" cy="613.9" rx="3.5" ry="4.9" fill="#000"/>
<ellipse cx="108.7" cy="613.9" rx="3.5" ry="4.9" fill="#000"/>
<rect x="98.1" y="609.9" width="10.6" height="8.0" fill="#000"/>
<rect x="99.1" y="613.3" width="8.6" height="1.2" fill="#5a5a5a"/>
<ellipse cx="128.5" cy="614.4" rx="3.2" ry="5.0" fill="#000"/>
<ellipse cx="138.2" cy="614.4" rx="3.2" ry="5.0" fill="#000"/>
<rect x="128.5" y="610.3" width="9.7" height="8.2" fill="#000"/>
<rect x="129.5" y="613.8" width="7.7" height="1.2" fill="#666"/>
<ellipse cx="151.5" cy="615.4" rx="3.5" ry="5.4" fill="#000"/>
<ellipse cx="162.0" cy="615.4" rx="3.5" ry="5.4" fill="#000"/>
<rect x="151.5" y="610.6" width="10.5" height="9.6" fill="#000"/>
<ellipse cx="174.2" cy="615.1" rx="3.6" ry="5.7" fill="#000"/>
<ellipse cx="185.3" cy="615.1" rx="3.6" ry="5.7" fill="#000"/>
<rect x="174.2" y="610.1" width="11.1" height="10.0" fill="#000"/>
</g>
<text x="0" y="0" font-size="10.5" text-anchor="start" font-weight="bold" fill="#000" transform="translate(199.4,619.4) scale(1,1.07)">STAT5</text>
<rect x="44.15" y="629.55" width="70.30" height="15.70" fill="#dadada" stroke="#1e1e1e" stroke-width="1.3"/>
<rect x="123.05" y="629.55" width="70.30" height="15.70" fill="#dadada" stroke="#1e1e1e" stroke-width="1.3"/>
<g filter="url(#bl)">
<rect x="44.9" y="634.8" width="22.8" height="7.1" rx="3.5" ry="3.5" fill="#000"/>
<rect x="69.8" y="634.8" width="19.6" height="7.1" rx="3.5" ry="3.5" fill="#000"/>
<rect x="91.7" y="634.8" width="21.9" height="7.1" rx="3.5" ry="3.5" fill="#000"/>
<rect x="124.5" y="634.8" width="19.8" height="7.1" rx="3.5" ry="3.5" fill="#000"/>
<rect x="146.7" y="634.8" width="20.4" height="7.1" rx="3.5" ry="3.5" fill="#000"/>
<rect x="169.8" y="634.8" width="22.8" height="7.1" rx="3.5" ry="3.5" fill="#000"/>
</g>
<text x="0" y="0" font-size="10.5" text-anchor="start" font-weight="bold" fill="#000" transform="translate(199.4,641) scale(1,1.07)"><tspan font-family="Liberation Serif" font-weight="bold" font-size="12">β</tspan><tspan dx="0.5" font-size="10.8">-Actin</tspan></text>
<rect x="46.75" y="664.95" width="67.50" height="16.00" fill="#cccccc" stroke="#1e1e1e" stroke-width="1.3"/>
<rect x="123.45" y="664.95" width="66.60" height="16.00" fill="#e2e2e2" stroke="#1e1e1e" stroke-width="1.3"/>
<g filter="url(#bl)">
<rect x="49.7" y="666.9" width="16.3" height="4.6" rx="2.3" ry="2.3" fill="#4a4a4a"/>
<rect x="49.7" y="674.6" width="16.3" height="5.0" rx="2.5" ry="2.5" fill="#404040"/>
<rect x="72.5" y="666.9" width="14.9" height="4.6" rx="2.3" ry="2.3" fill="#333"/>
<rect x="72.5" y="674.4" width="14.9" height="5.5" rx="2.8" ry="2.8" fill="#111"/>
<rect x="93.1" y="666.0" width="18.5" height="6.5" rx="3.2" ry="3.2" fill="#000"/>
<rect x="93.1" y="673.2" width="18.5" height="7.8" rx="3.9" ry="3.9" fill="#000"/>
<rect x="127.0" y="667.1" width="16.5" height="3.8" rx="1.9" ry="1.9" fill="#cacaca"/>
<rect x="127.0" y="675.1" width="16.5" height="3.8" rx="1.9" ry="1.9" fill="#c4c4c4"/>
<rect x="148.5" y="667.1" width="16.5" height="3.8" rx="1.9" ry="1.9" fill="#cacaca"/>
<rect x="148.5" y="675.1" width="16.5" height="3.8" rx="1.9" ry="1.9" fill="#bcbcbc"/>
<rect x="169.8" y="667.1" width="15.7" height="3.8" rx="1.9" ry="1.9" fill="#777"/>
<rect x="169.8" y="674.9" width="15.7" height="4.3" rx="2.1" ry="2.1" fill="#222"/>
</g>
<text x="0" y="0" font-size="10.5" text-anchor="start" font-weight="bold" fill="#000" transform="translate(199.4,677.4) scale(1,1.07)">P-ERK1/2</text>
<rect x="46.75" y="688.45" width="67.50" height="17.20" fill="#d0d0d0" stroke="#1e1e1e" stroke-width="1.3"/>
<rect x="123.45" y="688.45" width="66.60" height="17.20" fill="#d4d4d4" stroke="#1e1e1e" stroke-width="1.3"/>
<g filter="url(#bl)">
<rect x="49.0" y="689.4" width="18.5" height="5.3" rx="2.6" ry="2.6" fill="#000"/>
<rect x="49.0" y="697.9" width="18.5" height="6.3" rx="3.1" ry="3.1" fill="#000"/>
<rect x="72.5" y="689.4" width="17.0" height="5.3" rx="2.6" ry="2.6" fill="#000"/>
<rect x="72.5" y="697.9" width="17.0" height="6.3" rx="3.1" ry="3.1" fill="#000"/>
<rect x="94.5" y="689.4" width="17.1" height="5.3" rx="2.6" ry="2.6" fill="#000"/>
<rect x="94.5" y="697.9" width="17.1" height="6.3" rx="3.1" ry="3.1" fill="#000"/>
<rect x="127.1" y="689.4" width="15.7" height="5.3" rx="2.6" ry="2.6" fill="#000"/>
<rect x="127.1" y="697.9" width="15.7" height="6.3" rx="3.1" ry="3.1" fill="#000"/>
<rect x="147.8" y="689.4" width="15.6" height="5.3" rx="2.6" ry="2.6" fill="#000"/>
<rect x="147.8" y="697.9" width="15.6" height="6.3" rx="3.1" ry="3.1" fill="#000"/>
<rect x="168.4" y="689.4" width="17.8" height="5.3" rx="2.6" ry="2.6" fill="#000"/>
<rect x="168.4" y="697.9" width="17.8" height="6.3" rx="3.1" ry="3.1" fill="#000"/>
</g>
<text x="0" y="0" font-size="10.5" text-anchor="start" font-weight="bold" fill="#000" transform="translate(199.4,701.9) scale(1,1.07)">ERK1/2</text>
<rect x="47.05" y="712.15" width="67.40" height="16.20" fill="#d8d8d8" stroke="#1e1e1e" stroke-width="1.3"/>
<rect x="123.05" y="712.15" width="66.80" height="16.20" fill="#d8d8d8" stroke="#1e1e1e" stroke-width="1.3"/>
<g filter="url(#bl)">
<rect x="49.3" y="718.1" width="20.5" height="6.3" rx="3.1" ry="3.1" fill="#000"/>
<rect x="70.7" y="718.1" width="21.0" height="6.3" rx="3.1" ry="3.1" fill="#000"/>
<rect x="92.3" y="718.1" width="20.5" height="6.3" rx="3.1" ry="3.1" fill="#000"/>
<rect x="126.2" y="718.4" width="18.1" height="6.3" rx="3.1" ry="3.1" fill="#111"/>
<rect x="146.7" y="718.4" width="18.1" height="6.3" rx="3.1" ry="3.1" fill="#111"/>
<rect x="167.1" y="718.4" width="19.6" height="6.3" rx="3.1" ry="3.1" fill="#111"/>
</g>
<text x="0" y="0" font-size="10.5" text-anchor="start" font-weight="bold" fill="#000" transform="translate(199.4,725.6) scale(1,1.07)"><tspan font-family="Liberation Serif" font-weight="bold" font-size="12">β</tspan><tspan dx="0.5" font-size="10.8">-Actin</tspan></text>
<rect x="46.75" y="748.25" width="68.00" height="16.40" fill="#d0d0d0" stroke="#1e1e1e" stroke-width="1.3"/>
<rect x="123.45" y="748.25" width="67.10" height="16.40" fill="#d0d0d0" stroke="#1e1e1e" stroke-width="1.3"/>
<g filter="url(#bl)">
<rect x="49.0" y="752.6" width="18.5" height="6.3" rx="3.1" ry="3.1" fill="#000"/>
<rect x="50.0" y="758.5" width="16.5" height="3.8" rx="1.9" ry="1.9" fill="#444"/>
<rect x="71.7" y="752.6" width="17.1" height="6.3" rx="3.1" ry="3.1" fill="#000"/>
<rect x="72.7" y="758.5" width="15.1" height="3.8" rx="1.9" ry="1.9" fill="#444"/>
<rect x="94.5" y="752.3" width="15.7" height="4.8" rx="2.4" ry="2.4" fill="#000"/>
<rect x="95.0" y="758.5" width="14.5" height="3.8" rx="1.9" ry="1.9" fill="#555"/>
<rect x="127.8" y="757.1" width="15.7" height="5.3" rx="2.6" ry="2.6" fill="#000"/>
<rect x="149.2" y="757.1" width="14.9" height="5.3" rx="2.6" ry="2.6" fill="#000"/>
<rect x="170.5" y="757.1" width="15.7" height="5.3" rx="2.6" ry="2.6" fill="#000"/>
<rect x="128.0" y="752.6" width="15.0" height="3.3" rx="1.6" ry="1.6" fill="#999"/>
<rect x="149.5" y="752.6" width="14.5" height="3.3" rx="1.6" ry="1.6" fill="#999"/>
<rect x="170.5" y="752.3" width="15.7" height="3.8" rx="1.9" ry="1.9" fill="#333"/>
</g>
<text x="0" y="0" font-size="10.5" text-anchor="start" font-weight="bold" fill="#000" transform="translate(199.4,760.9) scale(1,1.07)">P-AKT</text>
<rect x="46.75" y="771.65" width="68.00" height="17.00" fill="#b8b8b8" stroke="#1e1e1e" stroke-width="1.3"/>
<rect x="123.45" y="771.65" width="67.10" height="17.00" fill="#b0b0b0" stroke="#1e1e1e" stroke-width="1.3"/>
<g filter="url(#bl)">
<rect x="49.0" y="777.6" width="19.2" height="7.3" rx="3.6" ry="3.6" fill="#000"/>
<rect x="72.5" y="777.6" width="17.0" height="7.3" rx="3.6" ry="3.6" fill="#000"/>
<rect x="94.5" y="777.6" width="16.4" height="7.3" rx="3.6" ry="3.6" fill="#000"/>
<rect x="125.7" y="777.1" width="17.8" height="8.3" rx="4.0" ry="4.0" fill="#000"/>
<rect x="147.8" y="777.1" width="16.3" height="8.3" rx="4.0" ry="4.0" fill="#000"/>
<rect x="169.1" y="777.1" width="17.8" height="8.3" rx="4.0" ry="4.0" fill="#000"/>
</g>
<text x="0" y="0" font-size="10.5" text-anchor="start" font-weight="bold" fill="#000" transform="translate(199.4,784) scale(1,1.07)">AKT</text>
<rect x="47.05" y="797.05" width="67.40" height="16.20" fill="#d8d8d8" stroke="#1e1e1e" stroke-width="1.3"/>
<rect x="123.05" y="797.05" width="66.80" height="16.20" fill="#d8d8d8" stroke="#1e1e1e" stroke-width="1.3"/>
<g filter="url(#bl)">
<rect x="48.4" y="802.9" width="21.4" height="6.3" rx="3.1" ry="3.1" fill="#000"/>
<rect x="72.1" y="802.9" width="19.0" height="6.3" rx="3.1" ry="3.1" fill="#000"/>
<rect x="93.2" y="802.9" width="20.4" height="6.3" rx="3.1" ry="3.1" fill="#000"/>
<rect x="124.7" y="802.9" width="21.1" height="6.3" rx="3.1" ry="3.1" fill="#000"/>
<rect x="147.8" y="802.9" width="19.3" height="6.3" rx="3.1" ry="3.1" fill="#000"/>
<rect x="169.2" y="802.9" width="19.0" height="6.3" rx="3.1" ry="3.1" fill="#000"/>
</g>
<text x="0" y="0" font-size="10.5" text-anchor="start" font-weight="bold" fill="#000" transform="translate(199.4,808.8) scale(1,1.07)"><tspan font-family="Liberation Serif" font-weight="bold" font-size="12">β</tspan><tspan dx="0.5" font-size="10.8">-Actin</tspan></text>
</svg>
</body></html>
